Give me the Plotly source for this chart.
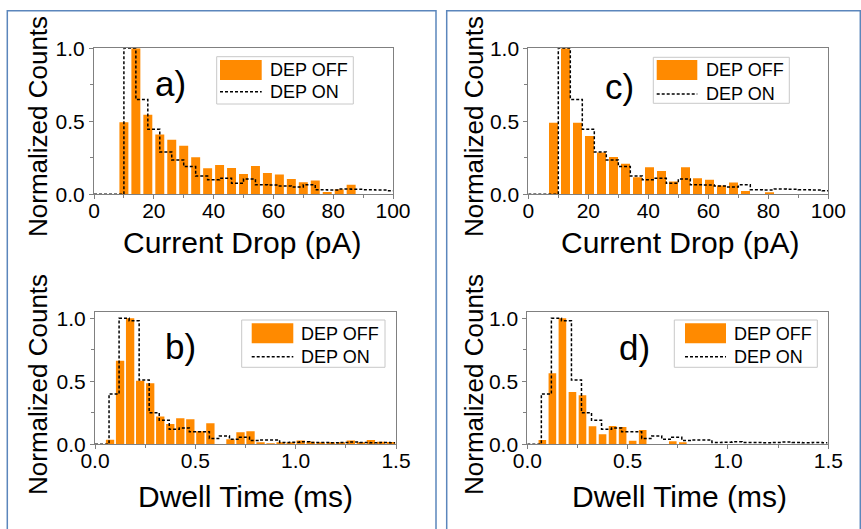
import plotly.graph_objects as go

W, H = 861, 529
FONT = "Liberation Sans, Arial, sans-serif"
ORANGE = "#FF8A00"

# ---------------- data ----------------
# Current drop (pA) histograms
cur_centers_a = [10, 14, 18, 22, 26, 30, 34, 38, 42, 46, 50, 54, 58, 62, 66, 70, 74, 78, 82, 86]
cur_off_a = [0.493, 1.0, 0.545, 0.409, 0.374, 0.333, 0.253, 0.178, 0.200, 0.180,
             0.139, 0.194, 0.146, 0.135, 0.104, 0.083, 0.095, 0.016, 0.035, 0.065]

cur_centers_c = [8.4, 12.4, 16.4, 20.4, 24.4, 28.4, 32.4, 36.4, 40.4, 44.4,
                 48.4, 52.4, 56.4, 60.4, 64.4, 68.4, 72.4, 76.4, 80.4]
cur_off_c = [0.49, 1.0, 0.49, 0.40, 0.287, 0.256, 0.21, 0.117, 0.185, 0.16,
             0.087, 0.185, 0.11, 0.10, 0.06, 0.08, 0.023, 0.0, 0.011]

cur_on_x = [0, 4, 8, 12, 16, 20, 24, 28, 32, 36, 40, 44, 48, 52, 56, 60, 64,
            68, 72, 76, 80, 84, 88, 92, 96, 100]
cur_on = [0, 0, 0, 1.0, 0.65, 0.445, 0.29, 0.235, 0.19, 0.125, 0.10, 0.11, 0.075,
          0.105, 0.065, 0.063, 0.057, 0.05, 0.065, 0.032, 0.03, 0.036, 0.035,
          0.032, 0.03, 0.025]

# Dwell time (ms) histograms
dw_centers = [0.075, 0.125, 0.175, 0.225, 0.275, 0.325, 0.375, 0.425, 0.475, 0.525,
              0.575, 0.625, 0.675, 0.725, 0.775, 0.825, 0.875, 0.925, 0.975, 1.025,
              1.075, 1.125, 1.175, 1.225, 1.275, 1.325, 1.375, 1.425, 1.475]
dw_off_b = [0.037, 0.664, 1.0, 0.505, 0.485, 0.22, 0.161, 0.206, 0.198, 0.103,
            0.167, 0.0, 0.04, 0.095, 0.103, 0.013, 0.005, 0.008, 0.01, 0.03,
            0.02, 0.015, 0.01, 0.01, 0.03, 0.013, 0.034, 0.02, 0.018]
dw_off_d = [0.034, 0.563, 1.0, 0.415, 0.39, 0.143, 0.079, 0.145, 0.137, 0.029,
            0.113, 0.0, 0.0, 0.024, 0.01, 0.0, 0.0, 0.0, 0.0, 0.0,
            0.0, 0.0, 0.0, 0.0, 0.0, 0.0, 0.0, 0.0, 0.0]

dw_on_x = [0, 0.045, 0.095, 0.145, 0.195, 0.245, 0.295, 0.345, 0.395, 0.445, 0.495,
           0.545, 0.595, 0.645, 0.695, 0.745, 0.795, 0.845, 0.895, 0.945, 0.995,
           1.045, 1.095, 1.145, 1.195, 1.245, 1.295, 1.345, 1.395, 1.445, 1.495]
dw_on = [0, 0, 0.40, 1.0, 0.98, 0.51, 0.25, 0.19, 0.12, 0.13, 0.10, 0.10, 0.047,
         0.066, 0.04, 0.055, 0.03, 0.035, 0.035, 0.015, 0.017, 0.02, 0.015, 0.015,
         0.012, 0.015, 0.018, 0.015, 0.012, 0.015, 0.013]

x_ticks_cur = [0, 20, 40, 60, 80, 100]
x_ticks_dw = [0.0, 0.5, 1.0, 1.5]
y_ticks = [0.0, 0.5, 1.0]

# ---------------- helpers ----------------
def px(x):
    return x / W

def py(y):
    return 1 - y / H

fig = go.Figure()

panels = [
    ("a", cur_centers_a, cur_off_a, cur_on_x, cur_on, 3.0, ""),
    ("b", dw_centers, dw_off_b, dw_on_x, dw_on, 0.0415, "2"),
    ("c", cur_centers_c, cur_off_c, cur_on_x, cur_on, 3.0, "3"),
    ("d", dw_centers, dw_off_d, dw_on_x, dw_on, 0.038, "4"),
]

for name, cx, off, onx, on, bw, s in panels:
    fig.add_trace(go.Bar(x=cx, y=off, width=bw, marker=dict(color=ORANGE, line=dict(width=0)),
                         xaxis="x" + s, yaxis="y" + s, showlegend=False))
    fig.add_trace(go.Scatter(x=onx, y=on, mode="lines", line_shape="hvh",
                             line=dict(color="black", width=1.5, dash="3px,2px"),
                             xaxis="x" + s, yaxis="y" + s, showlegend=False))

# plot-area geometry (pixels)
geo = {
    "": dict(x0=94, x1=393, y0=48.3, y1=194.3, xr=[0, 100], yr=[0, 1.0], xt=x_ticks_cur, xm=10),
    "2": dict(x0=95, x1=396, y0=312.3, y1=444.3, xr=[0, 1.5], yr=[0, 1.0476], xt=x_ticks_dw, xm=0.25),
    "3": dict(x0=528.3, x1=828.3, y0=48.3, y1=194.3, xr=[0, 100], yr=[0, 1.0], xt=x_ticks_cur, xm=10),
    "4": dict(x0=527.3, x1=828.3, y0=312.3, y1=444.3, xr=[0, 1.5], yr=[0, 1.0476], xt=x_ticks_dw, xm=0.25),
}

axcommon = dict(showgrid=False, zeroline=False, showline=True, linecolor="#808080",
                linewidth=1, mirror=True, ticks="outside", ticklen=4, tickwidth=1,
                tickcolor="#808080", automargin=False,
                tickfont=dict(family=FONT, size=21, color="black"))

layout_axes = {}
for s, g in geo.items():
    xa = dict(axcommon, domain=[px(g["x0"]), px(g["x1"])], range=g["xr"], anchor="y" + s,
              tickvals=g["xt"], ticktext=[("%g" % v) if g["xm"] == 10 else ("%.1f" % v) for v in g["xt"]],
              ticklabelstandoff=-7,
              minor=dict(ticks="outside", ticklen=3, dtick=g["xm"], tick0=0, tickcolor="#808080"))
    ya = dict(axcommon, domain=[py(g["y1"]), py(g["y0"])], range=g["yr"], anchor="x" + s,
              tickvals=y_ticks, ticktext=["%.1f" % v for v in y_ticks],
              minor=dict(ticks="outside", ticklen=3, dtick=0.25, tick0=0, tickcolor="#808080"))
    layout_axes["xaxis" + s] = xa
    layout_axes["yaxis" + s] = ya

fig.update_layout(**layout_axes)

ann = []
shapes = []

# panel borders
BORDER = "#5B86BC"
shapes.append(dict(type="rect", xref="paper", yref="paper", x0=px(7.3), x1=px(436),
                   y0=py(535), y1=py(10.7), line=dict(color=BORDER, width=1.5), layer="below"))
shapes.append(dict(type="rect", xref="paper", yref="paper", x0=px(446.7), x1=px(860.3),
                   y0=py(535), y1=py(10.7), line=dict(color=BORDER, width=1.5), layer="below"))

def text(x, y, t, size, xanchor="center", yanchor="middle", angle=0):
    ann.append(dict(x=px(x), y=py(y), xref="paper", yref="paper", text=t, showarrow=False,
                    xanchor=xanchor, yanchor=yanchor, textangle=angle,
                    font=dict(family=FONT, size=size, color="black")))

# axis titles
for cx_, cy_ in [(242, 243), (680, 243)]:
    text(cx_, cy_, "Current Drop (pA)", 30)
for cx_, cy_ in [(245, 496), (679, 496)]:
    text(cx_, cy_, "Dwell Time (ms)", 30)
for cx_, cy_ in [(38, 127), (474, 127), (38, 385), (474, 385)]:
    text(cx_, cy_, "Normalized Counts", 26, angle=-90)

# panel labels
for lab, lx, ly in [("a)", 170, 84), ("c)", 619, 86), ("b)", 180, 346), ("d)", 634, 347)]:
    text(lx, ly, lab, 35)

# legends
legends = [
    (216.7, 353.3, 56.7, 104, 220, 261.7, 60, 80, 91.7, 268.3, 69.5, 92),
    (653.3, 789.3, 57.3, 103.3, 656.7, 697.3, 60, 80, 94, 704, 70, 93.5),
    (241.7, 385, 320, 367.3, 251.7, 293.3, 323.3, 343.3, 356.7, 299.3, 333.5, 357),
    (674.3, 817.3, 320, 367.3, 685, 726, 323.3, 343.3, 356.7, 731.7, 333.5, 357),
]
for bx0, bx1, by0, by1, sx0, sx1, sy0, sy1, ly, tx, toff, ton in legends:
    shapes.append(dict(type="rect", xref="paper", yref="paper", x0=px(bx0), x1=px(bx1),
                       y0=py(by1), y1=py(by0), line=dict(color="#C8C8C8", width=1),
                       fillcolor="white"))
    shapes.append(dict(type="rect", xref="paper", yref="paper", x0=px(sx0), x1=px(sx1),
                       y0=py(sy1), y1=py(sy0), line=dict(width=0), fillcolor=ORANGE))
    shapes.append(dict(type="line", xref="paper", yref="paper", x0=px(sx0), x1=px(sx1),
                       y0=py(ly), y1=py(ly), line=dict(color="black", width=1.5, dash="3px,2px")))
    text(tx, toff, "DEP OFF", 18, xanchor="left")
    text(tx, ton, "DEP ON", 18, xanchor="left")

fig.update_layout(width=W, height=H,
                  margin=dict(l=0, r=0, t=0, b=0, autoexpand=False),
                  paper_bgcolor="white", plot_bgcolor="white",
                  annotations=ann, shapes=shapes, showlegend=False)

fig.write_html("out.html")
